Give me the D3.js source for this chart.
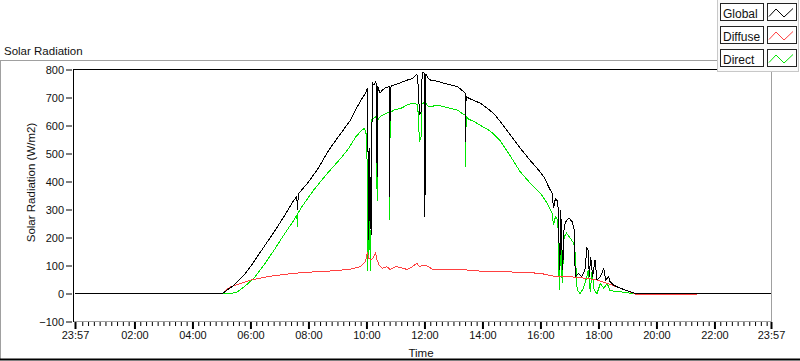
<!DOCTYPE html>
<html><head><meta charset="utf-8">
<script src="https://cdn.jsdelivr.net/npm/d3@7"></script>
<style>
body{margin:0;background:#fff}
svg{display:block}
text{font-family:"Liberation Sans",Arial,sans-serif;fill:#111}
</style>
</head><body><svg id="c" width="800" height="361"></svg>
<script>
// ---- data ----
const seriesNames = ["Global", "Diffuse", "Direct"];
const seriesColors = ["#000000", "#ff4040", "#00e600"];
const yTicks = [-100, 0, 100, 200, 300, 400, 500, 600, 700, 800];
// "-HH:MM" = previous day
const axisStart = "-23:57", axisEnd = "23:57";
const xTickTimes = ["-23:57", "02:00", "04:00", "06:00", "08:00", "10:00", "12:00", "14:00", "16:00", "18:00", "20:00", "22:00", "23:57"];
const xTickLabels = ["23:57", "02:00", "04:00", "06:00", "08:00", "10:00", "12:00", "14:00", "16:00", "18:00", "20:00", "22:00", "23:57"];
const minorTickMinutes = 12;

const globalData = [["-23:57",0],["05:02",0],["05:26",30],["05:47",66],["06:07",113],["06:28",167],["06:49",220],["07:09",274],["07:30",334],["07:36",346],["07:37",298],["07:39",350],["07:40",357],["07:58",394],["08:18",441],["08:42",512],["09:07",572],["09:27",619],["09:41",667],["09:51",697],["09:58",715],["10:02",733],["10:03",600],["10:04",191],["10:05",420],["10:06",260],["10:07",520],["10:08",230],["10:09",300],["10:10",210],["10:11",480],["10:12",740],["10:13",750],["10:15",745],["10:19",756],["10:21",745],["10:22",417],["10:23",740],["10:28",715],["10:33",727],["10:40",735],["10:47",739],["10:48",346],["10:49",700],["10:51",742],["10:57",745],["11:11",753],["11:24",762],["11:35",768],["11:44",782],["11:46",775],["11:48",700],["11:50",637],["11:53",650],["11:55",770],["11:57",790],["12:00",785],["12:01",274],["12:02",700],["12:03",785],["12:07",770],["12:13",762],["12:26",758],["12:40",751],["12:54",745],["13:08",739],["13:21",721],["13:24",715],["13:25",540],["13:26",690],["13:27",703],["13:32",697],["13:42",690],["13:56",679],["14:10",661],["14:23",644],["14:37",614],["14:58",565],["15:18",519],["15:39",475],["15:56",441],["16:07",417],["16:17",381],["16:24",358],["16:27",304],["16:31",340],["16:36",328],["16:40",84],["16:42",298],["16:46",84],["16:49",239],["16:54",262],["16:59",269],["17:06",256],["17:10",227],["17:12",60],["17:19",72],["17:25",60],["17:32",84],["17:36",161],["17:39",155],["17:41",60],["17:44",131],["17:48",60],["17:53",120],["17:57",48],["18:04",60],["18:11",90],["18:15",48],["18:21",60],["18:24",42],["18:31",30],["18:45",19],["18:59",10],["19:16",0],["23:57",0]];

const diffuseData = [["05:02",0],["05:11",14],["05:19",24],["05:40",36],["06:01",48],["06:35",60],["07:09",68],["07:44",74],["08:18",78],["08:53",81],["09:20",86],["09:27",87],["09:47",96],["09:58",114],["10:02",146],["10:05",126],["10:10",120],["10:15",131],["10:19",144],["10:22",120],["10:26",102],["10:33",90],["10:42",96],["10:49",86],["11:01",96],["11:11",92],["11:24",86],["11:35",96],["11:44",108],["11:50",96],["11:59",102],["12:08",96],["12:17",86],["12:54",84],["13:28",84],["13:56",80],["14:37",78],["15:18",76],["15:39",74],["16:00",72],["16:27",62],["17:02",60],["17:36",54],["17:57",48],["18:18",36],["18:38",24],["18:59",10],["19:16",-2],["21:24",-2]];

const directData = [["05:02",0],["05:19",0],["05:33",6],["05:47",24],["06:07",54],["06:28",102],["06:49",155],["07:09",209],["07:30",262],["07:36",280],["07:37",236],["07:38",285],["07:44",304],["08:11",370],["08:39",429],["09:07",483],["09:24",520],["09:38",560],["09:51",584],["09:56",590],["10:00",566],["10:02",420],["10:03",80],["10:04",300],["10:05",150],["10:06",346],["10:07",200],["10:08",90],["10:09",80],["10:10",400],["10:11",620],["10:15",625],["10:19",631],["10:21",625],["10:22",330],["10:23",620],["10:28",631],["10:33",637],["10:40",643],["10:47",649],["10:48",262],["10:49",645],["10:51",649],["10:57",655],["11:11",661],["11:24",673],["11:35",679],["11:46",676],["11:48",600],["11:50",542],["11:53",560],["11:55",679],["11:57",681],["12:00",679],["12:01",358],["12:02",600],["12:03",679],["12:07",670],["12:13",667],["12:26",673],["12:40",667],["12:54",661],["13:08",655],["13:21",640],["13:24",637],["13:25",453],["13:26",600],["13:27",630],["13:32",622],["13:42",615],["13:56",600],["14:10",587],["14:23",570],["14:37",545],["14:58",490],["15:18",435],["15:39",394],["16:00",358],["16:14",322],["16:24",286],["16:27",245],["16:31",274],["16:36",262],["16:39",12],["16:42",191],["16:45",36],["16:49",203],["16:54",215],["17:02",197],["17:09",179],["17:12",144],["17:16",12],["17:22",0],["17:29",19],["17:36",60],["17:39",84],["17:43",6],["17:47",84],["17:51",12],["17:57",0],["18:04",36],["18:11",19],["18:18",36],["18:24",10],["18:45",6],["19:12",0]];

// ---- chart ----
const parseHM = s => {
  const prev = s.startsWith("-");
  const [h, m] = s.replace("-", "").split(":").map(Number);
  return new Date(2020, 0, prev ? 1 : 2, h, m);
};
const svg = d3.select("#c");
const L = 73, R = 772, T = 69, B = 322;
const x = d3.scaleTime().domain([parseHM(axisStart), parseHM(axisEnd)]).range([75, 771]);
const y = d3.scaleLinear().domain([-100, 800]).range([321.5, 69.5]);

// outer frame
svg.append("line").attr("x1", 0).attr("x2", 717).attr("y1", 60.5).attr("y2", 60.5).attr("stroke", "#a0a0a0");
svg.append("line").attr("x1", 0.5).attr("x2", 0.5).attr("y1", 60).attr("y2", 360).attr("stroke", "#a0a0a0");
svg.append("line").attr("x1", 0).attr("x2", 800).attr("y1", 359.5).attr("y2", 359.5).attr("stroke", "#000").attr("stroke-width", 2);

svg.append("text").attr("x", 4).attr("y", 55).style("font-size", "11.5px").text("Solar Radiation");

// plot area
svg.append("rect").attr("x", L).attr("y", T).attr("width", R - L).attr("height", B - T).attr("fill", "#fff");

svg.append("clipPath").attr("id", "pc").append("rect")
  .attr("x", L + 1).attr("y", T).attr("width", R - L - 1).attr("height", B - T);

const line = d3.line().x(d => x(parseHM(d[0]))).y(d => y(d[1]));
const g = svg.append("g").attr("clip-path", "url(#pc)");
[[directData, 2], [diffuseData, 1], [globalData, 0]].forEach(([data, i]) => {
  g.append("path").datum(data).attr("d", line).attr("fill", "none")
    .attr("stroke", seriesColors[i]).attr("stroke-width", 1)
    .attr("shape-rendering", "crispEdges");
});

// plot borders
svg.append("line").attr("x1", R - 0.5).attr("x2", R - 0.5).attr("y1", T).attr("y2", B + 0.5).attr("stroke", "#a0a0a0");
svg.append("line").attr("x1", L).attr("x2", R).attr("y1", B - 0.5).attr("y2", B - 0.5).attr("stroke", "#a0a0a0");
svg.append("line").attr("x1", L + 0.5).attr("x2", L + 0.5).attr("y1", T).attr("y2", B).attr("stroke", "#000");
svg.append("line").attr("x1", L).attr("x2", R).attr("y1", T + 0.5).attr("y2", T + 0.5).attr("stroke", "#000");

// y axis
const ya = svg.append("g").attr("transform", `translate(${L - 1},0)`)
  .call(d3.axisLeft(y).tickValues(yTicks).tickSize(6).tickPadding(2).tickSizeOuter(0));
ya.select(".domain").remove();
ya.selectAll("text").style("font-size", "11px").attr("fill", "#111").attr("font-family", null);
ya.selectAll("line").attr("stroke", "#000");

// x axis (major + minor)
const majors = xTickTimes.map(parseHM);
const minors = d3.timeMinute.every(minorTickMinutes).range(x.domain()[0], x.domain()[1])
  .filter(d => !majors.some(m => Math.abs(m - d) < 6 * 60000));
const xm = svg.append("g").attr("transform", `translate(0,${B})`)
  .call(d3.axisBottom(x).tickValues(minors).tickFormat("").tickSize(4).tickSizeOuter(0));
xm.select(".domain").remove();
xm.selectAll("line").attr("stroke", "#000");
const xa = svg.append("g").attr("transform", `translate(0,${B})`)
  .call(d3.axisBottom(x).tickValues(majors).tickFormat((d, i) => xTickLabels[i]).tickSize(7).tickPadding(2).tickSizeOuter(0));
xa.select(".domain").remove();
xa.selectAll("line").attr("stroke", "#000").attr("stroke-width", 2);
xa.selectAll("text").style("font-size", "11px").attr("fill", "#111").attr("font-family", null);

// axis titles
svg.append("text").attr("transform", "translate(35,182.5) rotate(-90)").attr("text-anchor", "middle")
  .style("font-size", "11.5px").text("Solar Radiation (W/m2)");
svg.append("text").attr("x", 421).attr("y", 357).attr("text-anchor", "middle")
  .style("font-size", "11.5px").text("Time");

// legend panel
const lg = svg.append("g");
lg.append("rect").attr("x", 717.5).attr("y", -1).attr("width", 81).attr("height", 72.5)
  .attr("fill", "#fafafa").attr("stroke", "#c8c8c8");
seriesNames.forEach((name, i) => {
  const by = 3.5 + i * 23;
  lg.append("rect").attr("x", 720.5).attr("y", by).attr("width", 43).attr("height", 17)
    .attr("fill", "#fff").attr("stroke", "#222");
  lg.append("text").attr("x", 723).attr("y", by + 14).style("font-size", "12px").text(name);
  lg.append("rect").attr("x", 767.5).attr("y", by).attr("width", 29).attr("height", 17)
    .attr("fill", "#fff").attr("stroke", "#222");
  lg.append("path").attr("d", d3.line()([[769, by + 13], [776, by + 5.5], [784, by + 13.5], [793, by + 5]]))
    .attr("fill", "none").attr("stroke", seriesColors[i]).attr("stroke-width", 1);
});
</script>
</body></html>
